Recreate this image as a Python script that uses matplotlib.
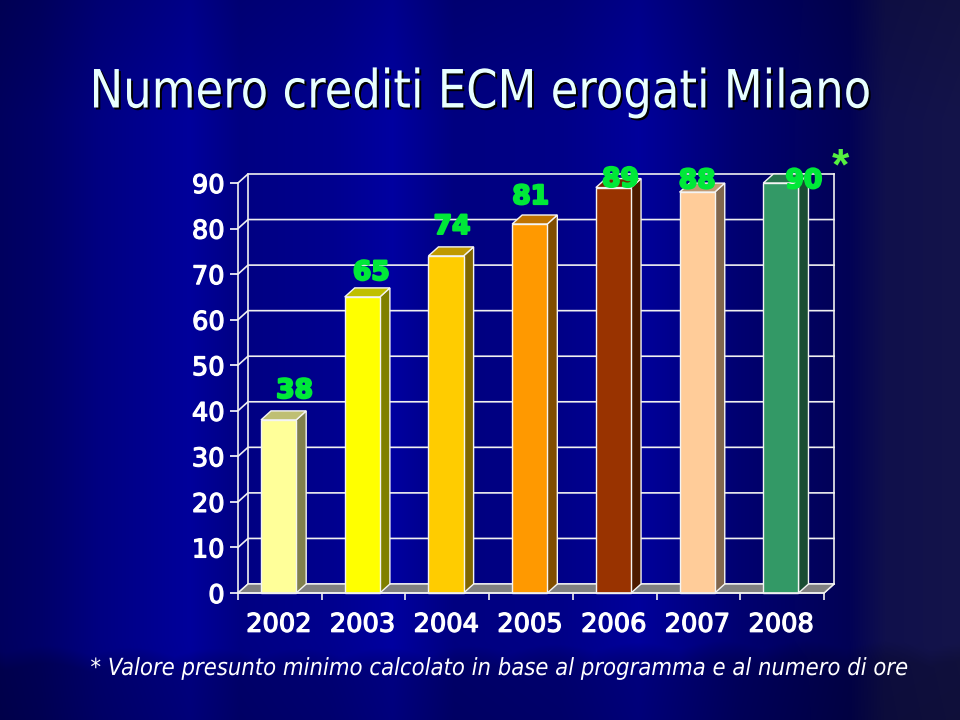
#!/usr/bin/env python3
import numpy as np
import matplotlib
matplotlib.use('Agg')
import matplotlib.pyplot as plt
import matplotlib.patheffects as pe
from matplotlib.patches import Polygon
from matplotlib.transforms import Affine2D

# Chart data
years = ['2002', '2003', '2004', '2005', '2006', '2007', '2008']
credits = [38, 65, 74, 81, 89, 88, 90]
y_ticks = [0, 10, 20, 30, 40, 50, 60, 70, 80, 90]
title = 'Numero crediti ECM erogati Milano'
footnote = '* Valore presunto minimo calcolato in base al programma e al numero di ore'

# Styles
bar_colors = ['#FFFF99', '#FFFF00', '#FFCC00', '#FF9900', '#993300', '#FFCC99', '#339966']
label_shift = [(16, 29), (9, 24), (6, 29), (1, 27), (7, 8), (0, 11), (23, 2)]  # pixels, hand placed labels


# Squeezes a text horizontally around cx, the slide font is narrower than what is installed
class Squeeze(pe.AbstractPathEffect):
    def __init__(self, cx, sx, shift=(0, 0), color=None):
        super().__init__()
        self.cx, self.sx, self.shift, self.color = cx, sx, shift, color

    def draw_path(self, renderer, gc, tpath, affine, rgbFace=None):
        tr = affine + Affine2D().translate(-self.cx, 0).scale(self.sx, 1).translate(self.cx, 0).translate(*self.shift)
        renderer.draw_path(gc, tpath, tr, self.color if self.color is not None else rgbFace)


fig = plt.figure(figsize=(9.6, 7.2), dpi=100)

# Slide background: vertical blue stripes with a dark wave near the bottom
W, H = 960, 720
stop_x = [0, 40, 100, 190, 240, 330, 392, 454, 560, 638, 740, 850, 885, 960]
stop_b = [95, 105, 130, 155, 130, 142, 160, 128, 135, 155, 112, 85, 76, 74]
stop_rg = [0, 0, 0, 0, 0, 0, 0, 0, 0, 0, 0, 2, 16, 20]
xx = np.arange(W)
blue = np.interp(xx, stop_x, stop_b)
rg = np.interp(xx, stop_x, stop_rg)
yy = np.arange(H)
shade = np.interp(yy, [0, 120, 640, 720], [0.88, 1.0, 1.0, 0.95])
bg = np.zeros((H, W, 3))
bg[:, :, 2] = np.outer(shade, blue) / 255
bg[:, :, 0] = np.outer(shade, rg) / 255
bg[:, :, 1] = np.outer(shade, rg) / 255
wave = 652 - 8 * np.abs(np.sin((xx - 90) / 84 * np.pi)) + 4 * np.sin(xx / 170)
for col in range(W):
    fade = np.clip((yy - wave[col]) / 18, 0, 1)
    bg[:, col, :] = bg[:, col, :] * (1 - 0.18 * fade)[:, None]
ax_bg = fig.add_axes([0, 0, 1, 1], zorder=0)
ax_bg.imshow(bg, aspect='auto', extent=(0, W, H, 0), interpolation='bilinear')
ax_bg.axis('off')

# Title and footnote
fig.text(480 / W, 1 - 92.5 / H, title, color='#E8FFFF', fontsize=38, family='DejaVu Sans',
         ha='center', va='center', zorder=5,
         path_effects=[Squeeze(480, 0.852, (2, -2), (0, 0, 0)), Squeeze(480, 0.852)])
fig.text(500 / W, 1 - 668 / H, footnote, color='white', fontsize=17, style='italic',
         family='DejaVu Sans', ha='center', va='center', zorder=5,
         path_effects=[Squeeze(500, 0.9)])

# Chart axes, the front plane of the 3D box
ax = fig.add_axes([238 / W, 1 - 593 / H, 586 / W, 410 / H], zorder=1)
ax.patch.set_alpha(0)
ax.set_xlim(0, 7)
ax.set_ylim(0, 90)
pitch_x = 586 / 7
pitch_y = 410 / 90
dx = 10 / pitch_x
dy = 9 / pitch_y

line_kw = dict(color='#F0F0F0', linewidth=1.2, clip_on=False, zorder=1.5)

# Back wall, grid and side wall
for v in y_ticks:
    ax.plot([0, dx, 7 + dx], [v, v + dy, v + dy], **line_kw)
ax.plot([dx, dx], [dy, 90 + dy], **line_kw)
ax.plot([7 + dx, 7 + dx], [dy, 90 + dy], **line_kw)
ax.plot([7, 7 + dx], [0, dy], **line_kw)

# Floor
ax.add_patch(Polygon([(0, 0), (7, 0), (7 + dx, dy), (dx, dy)], closed=True, facecolor='#808080',
                     edgecolor='#F0F0F0', linewidth=1.0, clip_on=False, zorder=1.6))

# Bars: front through ax.bar, top and side as polygons
bar_w = 0.42
for i, (val, c) in enumerate(zip(credits, bar_colors)):
    left = i + 0.275
    right = left + bar_w
    rgb = np.array(matplotlib.colors.to_rgb(c))
    edge = '#F4F4F4'
    ax.add_patch(Polygon([(right, 0), (right + dx, dy), (right + dx, val + dy), (right, val)], closed=True,
                         facecolor=rgb * 0.5, edgecolor=edge, linewidth=1.0, clip_on=False, zorder=3))
    ax.add_patch(Polygon([(left, val), (left + dx, val + dy), (right + dx, val + dy), (right, val)], closed=True,
                         facecolor=rgb * 0.75, edgecolor=edge, linewidth=1.0, clip_on=False, zorder=3))
    ax.bar(left, val, width=bar_w, align='edge', color=c, edgecolor=edge, linewidth=1.0, zorder=3.1, clip_on=False)

# Value labels
for i, val in enumerate(credits):
    ax.annotate(str(val), (i + 0.275 + bar_w / 2, val), xytext=label_shift[i], textcoords='offset pixels',
                ha='center', va='center', color='#00E838', fontsize=19, fontweight='bold', zorder=6,
                annotation_clip=False,
                path_effects=[pe.withStroke(linewidth=1.6, foreground='#00E838')])
ax.text(7 + 16 / pitch_x, 90 + 15 / pitch_y, '*', color='#55F040', fontsize=32, fontweight='bold',
        family='Liberation Sans', ha='center', va='center', zorder=6, clip_on=False)

# Axes, ticks and tick labels
for name in ['top', 'right']:
    ax.spines[name].set_visible(False)
for name in ['left', 'bottom']:
    ax.spines[name].set_color('#F0F0F0')
    ax.spines[name].set_linewidth(1.2)
    ax.spines[name].set_zorder(3.2)
thin = [pe.withStroke(linewidth=0.9, foreground='white')]
ax.set_yticks(y_ticks)
ax.set_yticklabels([str(v) for v in y_ticks])
ax.set_xticks(range(8))
ax.set_xticklabels([])
ax.set_xticks(np.arange(7) + 0.49, labels=years, minor=True)
ax.tick_params(axis='y', colors='white', length=6, width=1.2, pad=3.5, labelsize=18.5)
ax.tick_params(axis='x', which='major', color='#F0F0F0', length=5, width=1.2)
ax.tick_params(axis='x', which='minor', length=0, colors='white', pad=13.5, labelsize=18.5)
for t in ax.get_yticklabels() + ax.get_xticklabels(minor=True):
    t.set_path_effects(thin)

fig.savefig('out.png', dpi=100)
